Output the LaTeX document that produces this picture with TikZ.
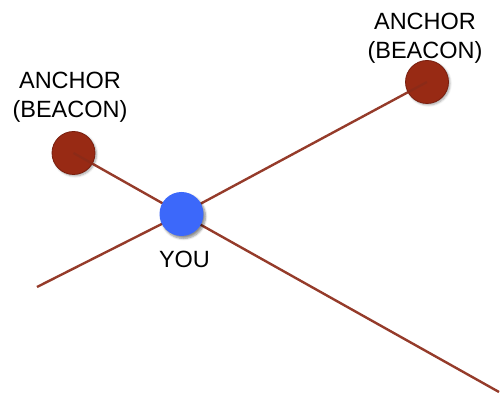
\documentclass[tikz,border=0pt]{standalone}
\usepackage{fontspec}
\setmainfont{Liberation Sans}
\usetikzlibrary{shadows.blur}
\definecolor{beaconred}{RGB}{152,42,20}
\definecolor{beaconedge}{RGB}{120,30,14}
\definecolor{rangeline}{RGB}{140,42,24}
\definecolor{youblue}{RGB}{60,104,250}
\tikzset{
  beacon/.style={circle, fill=beaconred, draw=beaconedge, line width=0.8pt,
    minimum size=43pt, inner sep=0pt,
    blur shadow={shadow xshift=1.5pt, shadow yshift=-1.5pt, shadow blur steps=6, shadow opacity=35}},
  you/.style={circle, fill=youblue, minimum size=44pt, inner sep=0pt,
    blur shadow={shadow xshift=2pt, shadow yshift=-2.5pt, shadow blur steps=6, shadow opacity=45}},
  rangeline/.style={draw=rangeline, line width=2.4pt, opacity=0.92},
  caption/.style={font=\fontsize{23.5}{29}\selectfont, align=center, text=black, inner sep=0pt}
}
\begin{document}
\begin{tikzpicture}[x=1pt, y=1pt]
  \useasboundingbox (0,0) rectangle (501,396);
  % anchors
  \node[beacon] (anchorL) at (73.5,243) {};
  \node[beacon] (anchorR) at (427,314) {};
  % free ends of the range lines
  \coordinate (endSW) at (37,109);
  \coordinate (endSE) at (499,4);
  % receiver position
  \coordinate (youpos) at (181.5,182);
  % range lines through the receiver
  \draw[rangeline] (anchorL.center) -- (youpos) -- (endSE);
  \draw[rangeline] (endSW) -- (youpos) -- (anchorR.center);
  \node[you] (you) at (youpos) {};
  % labels
  \node[caption] (labelL) at (70,298.5) {ANCHOR\\(BEACON)};
  \node[caption] (labelR) at (425,358) {ANCHOR\\(BEACON)};
  \node[caption] (labelYou) at (184.5,137) {YOU};
\end{tikzpicture}
\end{document}
